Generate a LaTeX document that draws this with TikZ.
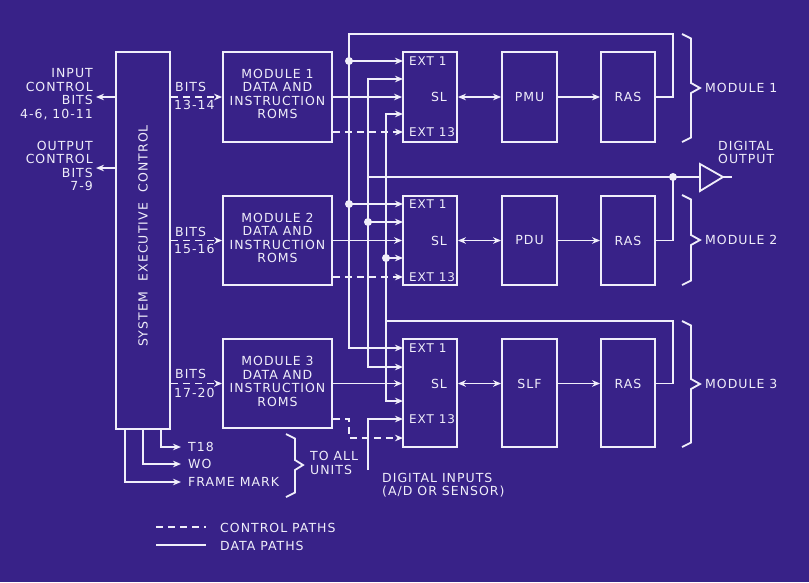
\documentclass[tikz,border=0pt]{standalone}
\usepackage{fontspec}
\setmainfont{DejaVu Sans}[LetterSpace=8]
\usetikzlibrary{arrows.meta}
\definecolor{bg}{RGB}{56,34,136}
\definecolor{fg}{RGB}{240,238,250}
\begin{document}
\begin{tikzpicture}[x=1pt,y=-1pt,
  every node/.style={text=fg, font=\fontsize{12.5}{13.6}\selectfont, inner sep=0pt},
  ln/.style={draw=fg, line width=1.8pt},
  box/.style={ln, rectangle, inner sep=0pt},
  arr/.style={ln, -{Stealth[length=8pt,width=6.5pt,inset=2.5pt]}},
  darr/.style={ln, {Stealth[length=8pt,width=6.5pt,inset=2.5pt]}-{Stealth[length=8pt,width=6.5pt,inset=2.5pt]}},
  ctl/.style={dash pattern=on 7pt off 5pt},
  dot/.style={circle, fill=fg, draw=none, minimum size=8pt, inner sep=0pt},
  small/.style={font=\fontsize{12}{13.6}\selectfont}
]
\fill[bg] (0,0) rectangle (809,582);
\useasboundingbox (0,0) rectangle (809,582);

% ---------- boxes ----------
\node[box, minimum width=54pt, minimum height=377pt] (sec) at (143,240.5) {};
\node[rotate=90] (sect) at (143,236) {SYSTEM\hspace{11pt}EXECUTIVE\hspace{11pt}CONTROL};

\node[box, minimum width=109pt, minimum height=90pt] (rom1) at (277.5,97) {};
\node[align=center] (rom1t) at (277.5,94) {MODULE 1\\DATA AND\\INSTRUCTION\\ROMS};
\node[box, minimum width=109pt, minimum height=89pt] (rom2) at (277.5,240.5) {};
\node[align=center] (rom2t) at (277.5,238) {MODULE 2\\DATA AND\\INSTRUCTION\\ROMS};
\node[box, minimum width=109pt, minimum height=89pt] (rom3) at (277.5,383.5) {};
\node[align=center] (rom3t) at (277.5,381.5) {MODULE 3\\DATA AND\\INSTRUCTION\\ROMS};

\node[box, minimum width=54pt, minimum height=90pt] (sl1) at (430,97) {};
\node[box, minimum width=54pt, minimum height=89pt] (sl2) at (430,240.5) {};
\node[box, minimum width=54pt, minimum height=108pt] (sl3) at (430,393) {};
\node[anchor=west, small] (sl1a) at (409,61) {EXT 1};
\node (sl1b) at (439,97) {SL};
\node[anchor=west, small] (sl1c) at (409,132) {EXT 13};
\node[anchor=west, small] (sl2a) at (409,204) {EXT 1};
\node (sl2b) at (439,241) {SL};
\node[anchor=west, small] (sl2c) at (409,277) {EXT 13};
\node[anchor=west, small] (sl3a) at (409,348) {EXT 1};
\node (sl3b) at (439,384) {SL};
\node[anchor=west, small] (sl3c) at (409,419) {EXT 13};

\node[box, minimum width=55pt, minimum height=90pt] (pmu) at (529.5,97) {PMU};
\node[box, minimum width=55pt, minimum height=89pt] (pdu) at (529.5,240.5) {PDU};
\node[box, minimum width=55pt, minimum height=108pt] (slf) at (529.5,393) {};
\node (slft) at (529.5,384) {SLF};

\node[box, minimum width=54pt, minimum height=90pt] (ras1) at (628,97) {RAS};
\node[box, minimum width=54pt, minimum height=89pt] (ras2) at (628,240.5) {RAS};
\node[box, minimum width=54pt, minimum height=108pt] (ras3) at (628,393) {};
\node (ras3t) at (628,384) {RAS};

% ---------- coordinates ----------
\coordinate (e11) at (403,61);  \coordinate (e12) at (403,79);
\coordinate (e14) at (403,114); \coordinate (e15) at (403,132);
\coordinate (e21) at (403,204); \coordinate (e22) at (403,222);
\coordinate (e24) at (403,258); \coordinate (e25) at (403,277);
\coordinate (e31) at (403,348); \coordinate (e32) at (403,367);
\coordinate (e34) at (403,401); \coordinate (e35) at (403,419);
\coordinate (e36) at (403,438);
\coordinate (L1) at (673,34);  \coordinate (A0) at (349,34);
\coordinate (L2) at (673,177); \coordinate (B0) at (368,177);
\coordinate (L3) at (673,321); \coordinate (C0) at (386,321);
\coordinate (jA1) at (349,61);  \coordinate (jA2) at (349,204);
\coordinate (jB2) at (368,222); \coordinate (jC2) at (386,258);
\coordinate (k3) at (349,438);
\coordinate (din) at (368,470);
\coordinate (bufin) at (700,177); \coordinate (bufout) at (723,177);
\coordinate (dout) at (732,177);
\coordinate (inl) at (96,97); \coordinate (outl) at (96,168);

% ---------- SEC connections ----------
\draw[arr] (sec.west |- inl) -- (inl);
\draw[arr] (sec.west |- outl) -- (outl);
\draw[arr,ctl] (sec.east |- rom1.west) -- (rom1.west);
\draw[arr,ctl] (sec.east |- rom2.west) -- (rom2.west);
\draw[arr,ctl] (sec.east |- rom3.west) -- (rom3.west);

\node[anchor=east, align=right] (inlab) at (93,94) {INPUT\\CONTROL\\BITS\\4-6, 10-11};
\node[anchor=east, align=right] (outlab) at (93,166) {OUTPUT\\CONTROL\\BITS\\7-9};
\node[anchor=west] (b1a) at (175,87) {BITS};
\node[anchor=west] (b1b) at (174,105) {13-14};
\node[anchor=west] (b2a) at (175,232) {BITS};
\node[anchor=west] (b2b) at (174,249) {15-16};
\node[anchor=west] (b3a) at (175,374) {BITS};
\node[anchor=west] (b3b) at (174,393) {17-20};

% bottom outputs
\coordinate (s1) at (161,429); \coordinate (s2) at (143,429); \coordinate (s3) at (125,429);
\coordinate (t1) at (181,447); \coordinate (t2) at (181,464); \coordinate (t3) at (181,482);
\draw[arr] (s1) |- (t1);
\draw[arr] (s2) |- (t2);
\draw[arr] (s3) |- (t3);
\node[anchor=west] (t18) at (188,447) {T18};
\node[anchor=west] (wo) at (188,464) {WO};
\node[anchor=west] (fm) at (188,482) {FRAME MARK};
\draw[ln] (286,434) -- (295,438.5) -- (295,460) -- (303,465) -- (295,470) -- (295,492.5) -- (286,497);
\node[anchor=west, align=left] (toall) at (310,463) {TO ALL\\UNITS};

% ---------- ROM -> SL ----------
\draw[arr] (rom1.east) -- (sl1.west);
\draw[arr] (rom2.east) -- (sl2.west);
\draw[arr] (rom3.east) -- (sl3.west |- rom3.east);
\draw[arr,ctl] (rom1.east |- e15) -- (e15);
\draw[arr,ctl] (rom2.east |- e25) -- (e25);
\draw[arr,ctl] (rom3.east |- e35) -| (k3) -- (e36);

% ---------- SL <-> P ; P -> RAS ----------
\draw[darr] (sl1.east) -- (pmu.west);
\draw[darr] (sl2.east) -- (pdu.west);
\draw[darr] (sl3.east |- rom3.east) -- (slf.west |- rom3.east);
\draw[arr] (pmu.east) -- (ras1.west);
\draw[arr] (pdu.east) -- (ras2.west);
\draw[arr] (slf.east |- rom3.east) -- (ras3.west |- rom3.east);

% ---------- feedback buses ----------
% bus A (from RAS 1)
\draw[arr] (ras1.east) -| (L1) -- (A0) |- (e31);
\draw[arr] (jA1) -- (e11);
\draw[arr] (jA2) -- (e21);
\node[dot] (dA1) at (jA1) {};
\node[dot] (dA2) at (jA2) {};
% bus B (from RAS 2)
\draw[ln] (ras2.east) -| (L2);
\draw[ln] (B0) -- (bufin);
\draw[arr] (B0) |- (e12);
\draw[arr] (B0) |- (e32);
\draw[arr] (jB2) -- (e22);
\node[dot] (dB2) at (jB2) {};
\node[dot] (dL2) at (L2) {};
% bus C (from RAS 3)
\draw[ln] (ras3.east |- rom3.east) -| (L3) -- (C0);
\draw[arr] (C0) |- (e14);
\draw[arr] (C0) |- (e34);
\draw[arr] (jC2) -- (e24);
\node[dot] (dC2) at (jC2) {};

% digital inputs
\draw[arr] (din) |- (e35);
\node[anchor=west, align=left] (dinl) at (382,485) {DIGITAL INPUTS\\(A/D OR SENSOR)};

% digital output buffer
\draw[ln, line join=miter] (700,164) -- (700,191) -- (bufout) -- cycle;
\draw[ln] (bufout) -- (dout);
\node[anchor=west, align=left] (doutl) at (718,152.5) {DIGITAL\\OUTPUT};

% module braces
\draw[ln] (682,34) -- (691,38.5) -- (691,83) -- (700,88) -- (691,93) -- (691,137.5) -- (682,142);
\draw[ln] (682,195) -- (691,199.5) -- (691,235) -- (700,240) -- (691,245) -- (691,280.5) -- (682,285);
\draw[ln] (682,321) -- (691,325.5) -- (691,379) -- (700,384) -- (691,389) -- (691,442.5) -- (682,447);
\node[anchor=west] (m1) at (705,88) {MODULE 1};
\node[anchor=west] (m2) at (705,240) {MODULE 2};
\node[anchor=west] (m3) at (705,384) {MODULE 3};

% legend
\coordinate (lg1a) at (156,527); \coordinate (lg1b) at (206,527);
\coordinate (lg2a) at (156,545); \coordinate (lg2b) at (206,545);
\draw[ln,ctl] (lg1a) -- (lg1b);
\draw[ln] (lg2a) -- (lg2b);
\node[anchor=west] (lgc) at (220,528) {CONTROL PATHS};
\node[anchor=west] (lgd) at (220,546) {DATA PATHS};
\end{tikzpicture}
\end{document}
